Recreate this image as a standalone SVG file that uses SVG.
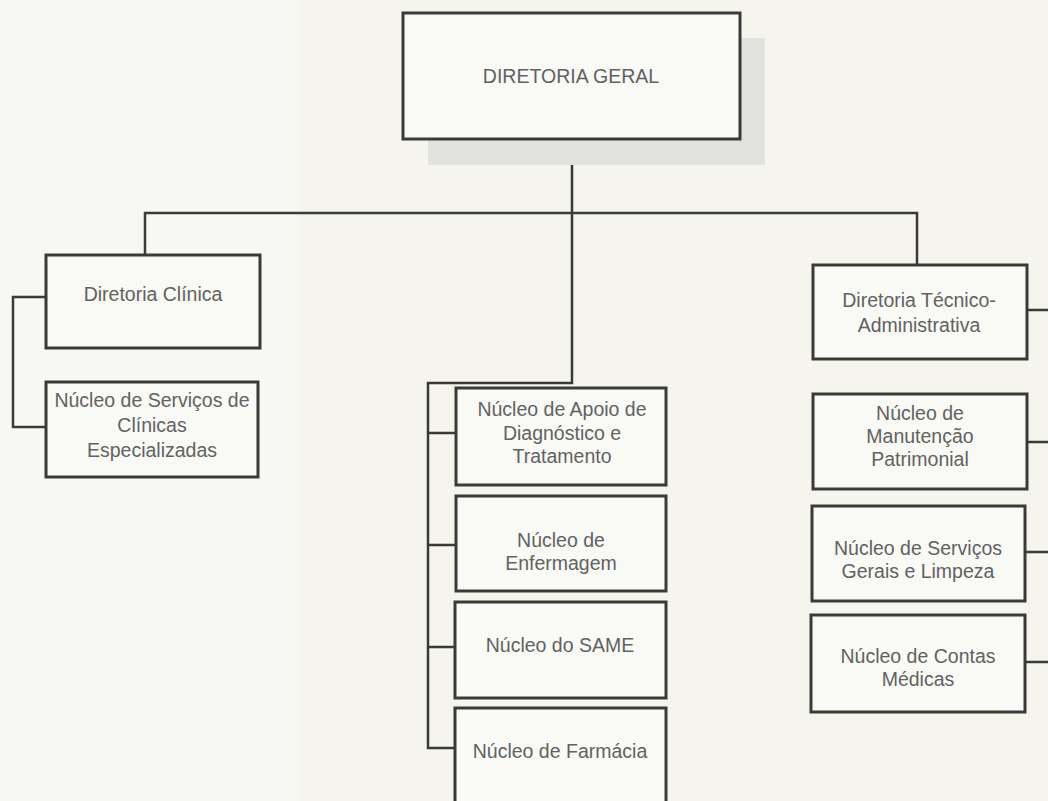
<svg xmlns="http://www.w3.org/2000/svg" width="1048" height="801" viewBox="0 0 1048 801">
<style>
.box{fill:#f9f9f6;stroke:#3a3a3a;stroke-width:3}
.lbl{font-family:"Liberation Sans",Arial,sans-serif;font-size:19.5px;fill:#626262;text-anchor:middle}
.con{fill:none;stroke:#3a3a3a;stroke-width:2.5}
</style>
<rect x="0" y="0" width="1048" height="801" fill="#f5f5ee"/>
<rect x="0" y="0" width="300" height="801" fill="#f7f7f3"/>
<g id="connectors">
<path class="con" d="M572,138 V213 M145,255 V213 H917 V265"/>
<path class="con" d="M572,213 V383 H428 V748 H456 M428,433 H456 M428,545 H456 M428,647 H456"/>
<path class="con" d="M46,297 H13 V427 H46"/>
<path class="con" d="M1027,310 H1050 M1027,442 H1050 M1025,552 H1050 M1025,662 H1050"/>
</g>
<g id="n-geral">
<rect x="428" y="38" width="337" height="127" fill="#e2e2de"/>
<rect class="box" x="403" y="13" width="337" height="126"/>
<text class="lbl" x="571" y="83">DIRETORIA GERAL</text>
</g>
<g id="n-clinica">
<rect class="box" x="46" y="255" width="214" height="93"/>
<text class="lbl" x="153" y="301">Diretoria Clínica</text>
</g>
<g id="n-especializadas">
<rect class="box" x="46" y="382" width="212" height="95"/>
<text class="lbl" x="152" y="407">Núcleo de Serviços de</text>
<text class="lbl" x="152" y="432">Clínicas</text>
<text class="lbl" x="152" y="457">Especializadas</text>
</g>
<g id="n-apoio">
<rect class="box" x="456" y="388" width="210" height="97"/>
<text class="lbl" x="562" y="416">Núcleo de Apoio de</text>
<text class="lbl" x="562" y="440">Diagnóstico e</text>
<text class="lbl" x="562" y="463">Tratamento</text>
</g>
<g id="n-enfermagem">
<rect class="box" x="456" y="496" width="210" height="95"/>
<text class="lbl" x="561" y="547">Núcleo de</text>
<text class="lbl" x="561" y="570">Enfermagem</text>
</g>
<g id="n-same">
<rect class="box" x="455" y="602" width="211" height="96"/>
<text class="lbl" x="560" y="652">Núcleo do SAME</text>
</g>
<g id="n-farmacia">
<rect class="box" x="455" y="708" width="211" height="95"/>
<text class="lbl" x="560" y="758">Núcleo de Farmácia</text>
</g>
<g id="n-tecnico">
<rect class="box" x="813" y="265" width="214" height="94"/>
<text class="lbl" x="919" y="307">Diretoria Técnico-</text>
<text class="lbl" x="919" y="332">Administrativa</text>
</g>
<g id="n-manutencao">
<rect class="box" x="813" y="394" width="214" height="95"/>
<text class="lbl" x="920" y="420">Núcleo de</text>
<text class="lbl" x="920" y="443">Manutenção</text>
<text class="lbl" x="920" y="466">Patrimonial</text>
</g>
<g id="n-servicos">
<rect class="box" x="812" y="506" width="213" height="95"/>
<text class="lbl" x="918" y="555">Núcleo de Serviços</text>
<text class="lbl" x="918" y="578">Gerais e Limpeza</text>
</g>
<g id="n-contas">
<rect class="box" x="811" y="615" width="214" height="97"/>
<text class="lbl" x="918" y="663">Núcleo de Contas</text>
<text class="lbl" x="918" y="686">Médicas</text>
</g>
</svg>
